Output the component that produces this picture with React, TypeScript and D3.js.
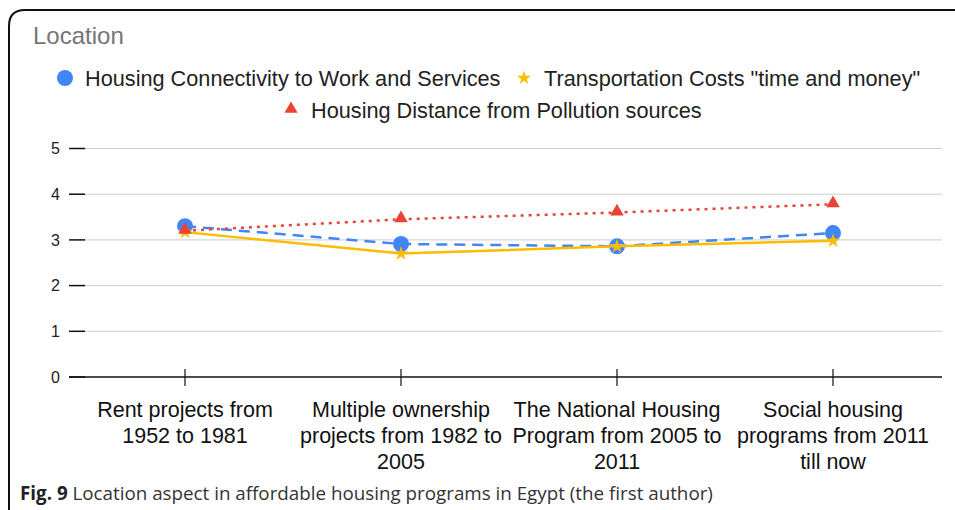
import React, { useEffect, useRef } from "react";
import * as d3 from "d3";

const categories: string[][] = [
  ["Rent projects from", "1952 to 1981"],
  ["Multiple ownership", "projects from 1982 to", "2005"],
  ["The National Housing", "Program from 2005 to", "2011"],
  ["Social housing", "programs from 2011", "till now"],
];
const connectivity = [3.3, 2.91, 2.86, 3.15];
const transport = [3.17, 2.7, 2.86, 2.98];
const pollution = [3.2, 3.45, 3.6, 3.78];
const yTicks = [0, 1, 2, 3, 4, 5];
const seriesNames = [
  "Housing Connectivity to Work and Services",
  'Transportation Costs "time and money"',
  "Housing Distance from Pollution sources",
];

const W = 955;
const H = 510;
const FONT = "'Liberation Sans', Arial, sans-serif";

export default function App() {
  const ref = useRef<SVGSVGElement>(null);
  useEffect(() => {
    const svg = d3.select(ref.current!);
    svg.selectAll("*").remove();

    // frame
    svg.append("path")
      .attr("d", "M9,510 L9,26 Q9,10 25,10 L960,10")
      .attr("fill", "none").attr("stroke", "#111").attr("stroke-width", 2);

    svg.append("text").attr("x", 33).attr("y", 44)
      .attr("font-family", FONT).attr("font-size", 24).attr("fill", "#757575")
      .text("Location");

    const x = d3.scaleBand<number>().domain(d3.range(4)).range([77, 941]);
    const y = d3.scaleLinear().domain([0, 5]).range([377, 148.5]);
    const cx = (i: number) => x(i)! + x.bandwidth() / 2;

    // gridlines
    svg.append("g").selectAll("line").data(yTicks.filter(t => t > 0)).join("line")
      .attr("x1", 85).attr("x2", 942)
      .attr("y1", d => y(d)).attr("y2", d => y(d))
      .attr("stroke", "#cccccc").attr("stroke-width", 1);

    // y tick marks and labels
    const yg = svg.append("g");
    yg.selectAll("line").data(yTicks).join("line")
      .attr("x1", 69).attr("x2", 85)
      .attr("y1", d => y(d)).attr("y2", d => y(d))
      .attr("stroke", "#111").attr("stroke-width", 1.5);
    yg.selectAll("text").data(yTicks).join("text")
      .attr("x", 60).attr("y", d => y(d)).attr("dy", "0.35em")
      .attr("text-anchor", "end").attr("font-family", FONT).attr("font-size", 16).attr("fill", "#222")
      .text(d => d);

    // baseline
    svg.append("line").attr("x1", 69).attr("x2", 942).attr("y1", y(0)).attr("y2", y(0))
      .attr("stroke", "#111").attr("stroke-width", 1.5);
    svg.append("g").selectAll("line").data(d3.range(4)).join("line")
      .attr("x1", d => cx(d)).attr("x2", d => cx(d))
      .attr("y1", y(0) - 8).attr("y2", y(0) + 9)
      .attr("stroke", "#111").attr("stroke-width", 1.2);

    // x labels
    const xl = svg.append("g");
    categories.forEach((lines, i) => {
      const t = xl.append("text").attr("text-anchor", "middle")
        .attr("font-family", FONT).attr("font-size", 21.5).attr("fill", "#111");
      lines.forEach((ln, j) => {
        t.append("tspan").attr("x", cx(i)).attr("y", 417 + j * 26).text(ln);
      });
    });

    const line = d3.line<number>().x((_, i) => cx(i)).y(d => y(d));
    const blue = "#4285F4", yellow = "#FBBC04", red = "#EA4335";

    // series: blue
    svg.append("path").attr("d", line(connectivity)!).attr("fill", "none")
      .attr("stroke", blue).attr("stroke-width", 2.5).attr("stroke-dasharray", "11,7");
    svg.append("g").selectAll("circle").data(connectivity).join("circle")
      .attr("cx", (_, i) => cx(i)).attr("cy", d => y(d)).attr("r", 8).attr("fill", blue);

    // yellow
    const star = d3.symbol().type(d3.symbolStar).size(65);
    svg.append("path").attr("d", line(transport)!).attr("fill", "none")
      .attr("stroke", yellow).attr("stroke-width", 2.5);
    svg.append("g").selectAll("path").data(transport).join("path")
      .attr("d", star()!).attr("transform", (d, i) => `translate(${cx(i)},${y(d)})`)
      .attr("fill", yellow);

    // red
    const tri = d3.symbol().type(d3.symbolTriangle).size(80);
    svg.append("path").attr("d", line(pollution)!).attr("fill", "none")
      .attr("stroke", red).attr("stroke-width", 2.5).attr("stroke-dasharray", "3,5");
    svg.append("g").selectAll("path").data(pollution).join("path")
      .attr("d", tri()!).attr("transform", (d, i) => `translate(${cx(i)},${y(d) - 1})`)
      .attr("fill", red);

    // legend
    const lg = svg.append("g").attr("font-family", FONT).attr("font-size", 21.7).attr("fill", "#222");
    lg.append("circle").attr("cx", 65).attr("cy", 78).attr("r", 8).attr("fill", blue);
    lg.append("text").attr("x", 85).attr("y", 78).attr("dy", "0.35em").text(seriesNames[0]);
    lg.append("path").attr("d", d3.symbol().type(d3.symbolStar).size(62)()!)
      .attr("transform", "translate(524,78)").attr("fill", yellow);
    lg.append("text").attr("x", 544).attr("y", 78).attr("dy", "0.35em").text(seriesNames[1]);
    lg.append("path").attr("d", d3.symbol().type(d3.symbolTriangle).size(75)()!)
      .attr("transform", "translate(291,109)").attr("fill", red);
    lg.append("text").attr("x", 311).attr("y", 110).attr("dy", "0.35em").text(seriesNames[2]);

    // caption
    const cap = svg.append("text").attr("x", 20).attr("y", 500)
      .attr("font-family", "'Open Sans', 'Noto Sans', sans-serif").attr("font-size", 18.8).attr("fill", "#333");
    cap.append("tspan").attr("font-weight", "bold").attr("fill", "#222").text("Fig. 9");
    cap.append("tspan").text(" Location aspect in affordable housing programs in Egypt (the first author)");
  }, []);
  return (
    <svg ref={ref} width={W} height={H}
      style={{ position: "absolute", left: 0, top: 0, background: "#fff" }} />
  );
}
